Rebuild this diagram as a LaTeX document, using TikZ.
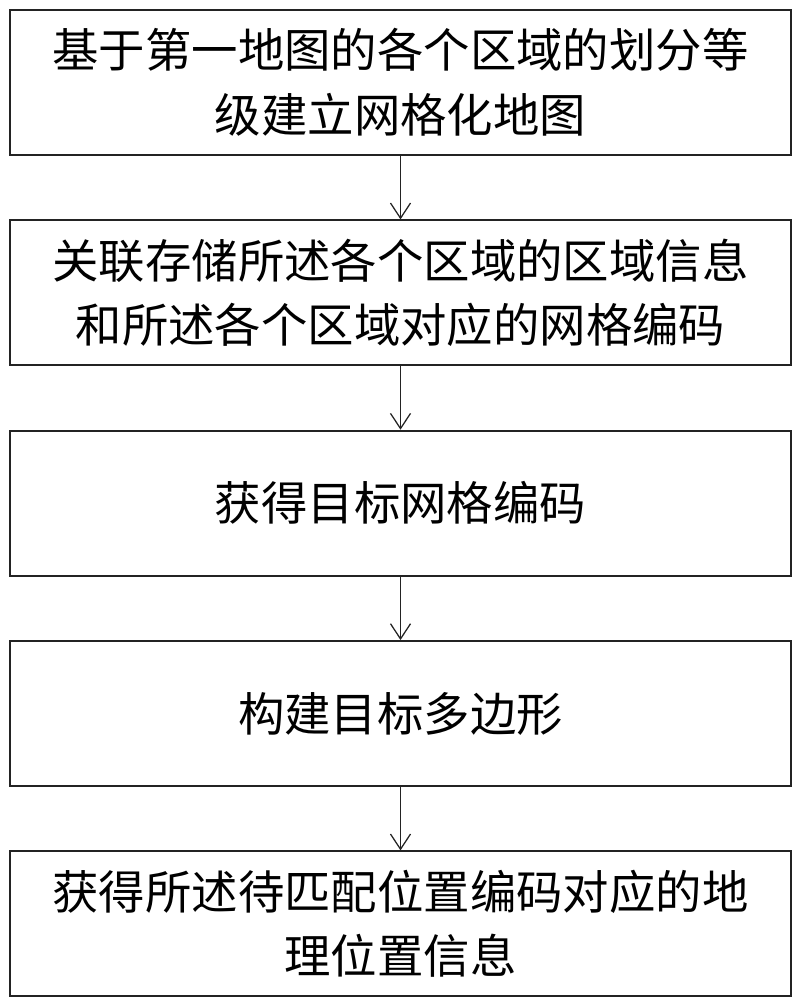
\documentclass[tikz,border=0pt]{standalone}
\usepackage{fontspec}
\usepackage{tikz}
\usetikzlibrary{arrows.meta, positioning}
\newfontfamily\cjk{Noto Sans CJK SC}
\definecolor{mydark}{RGB}{35,35,35}
\tikzset{
  stepbox/.style={rectangle, draw=mydark, fill=white,
    minimum width=19.525cm, minimum height=3.625cm,
    align=center, inner sep=0pt, line width=1.3pt,
    font=\cjk\fontsize{33}{46}\selectfont},
  arrow/.style={-{Straight Barb[length=0.38cm, width=0.5cm]}, line width=0.9pt, color=mydark}
}
\begin{document}
\begin{tikzpicture}[node distance=1.5875cm]
  \useasboundingbox (0,0) rectangle (20.025,-25);

  % Steps
  \node[stepbox] (grid) at (10.0125,-2.0625) {基于第一地图的各个区域的划分等\\级建立网格化地图};
  \node[stepbox, below=of grid] (store) {关联存储所述各个区域的区域信息\\和所述各个区域对应的网格编码};
  \node[stepbox, below=of store] (code) {获得目标网格编码};
  \node[stepbox, below=of code] (poly) {构建目标多边形};
  \node[stepbox, below=of poly] (geo) {获得所述待匹配位置编码对应的地\\理位置信息};

  % Connections
  \draw[arrow] (grid) -- (store);
  \draw[arrow] (store) -- (code);
  \draw[arrow] (code) -- (poly);
  \draw[arrow] (poly) -- (geo);
\end{tikzpicture}
\end{document}
